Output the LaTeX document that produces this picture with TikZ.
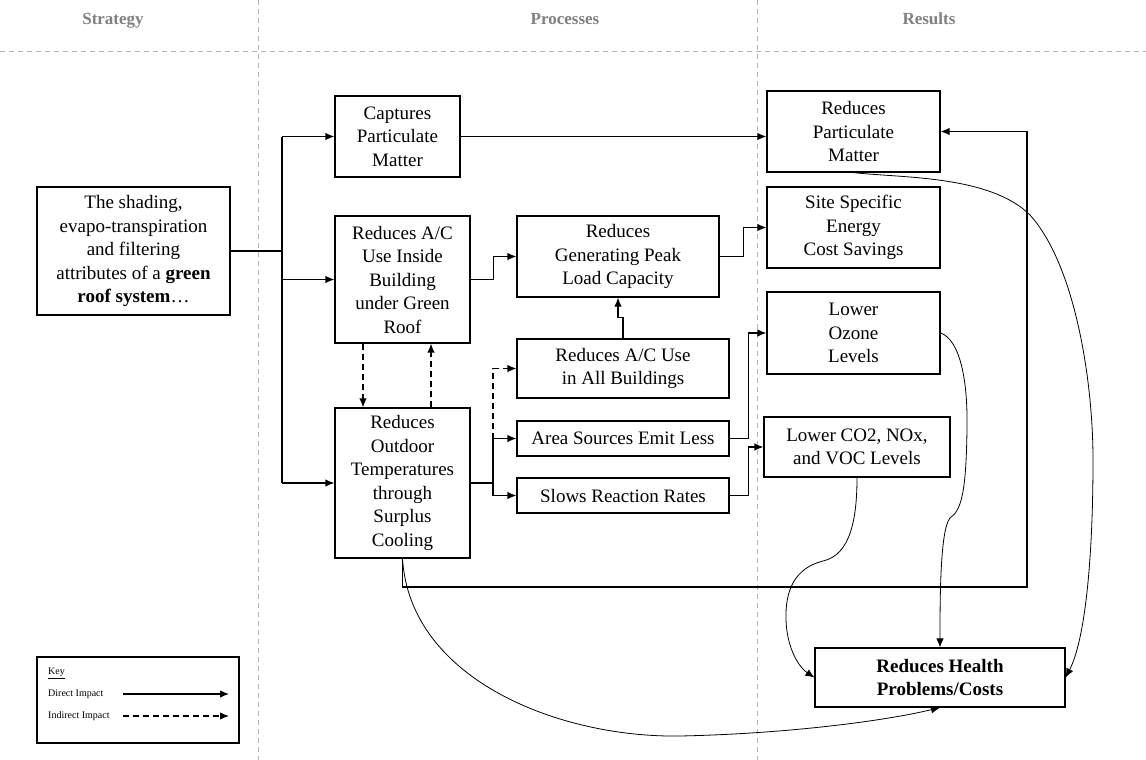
\documentclass[tikz,border=0pt]{standalone}
\usepackage{fontspec}
\setmainfont{Liberation Serif}
\usetikzlibrary{arrows.meta}
\newcommand{\boxfont}{\fontsize{19}{23.5}\selectfont}

\begin{document}
\begin{tikzpicture}[x=1pt,y=-1pt,
  box/.style={draw,line width=1.2pt,align=center,inner sep=0pt,font=\boxfont},
  dir/.style={line width=1.2pt,-{Latex[length=9pt,width=7.5pt]}},
  ind/.style={dir,dash pattern=on 6pt off 4pt},
  soft/.style={line width=0.8pt,-{Latex[length=9pt,width=7.5pt]}},
  grid/.style={gray!60,line width=0.8pt,dash pattern=on 5pt off 4pt},
  head/.style={anchor=base,text=gray,font=\fontsize{17}{20}\selectfont\bfseries},
  keytext/.style={anchor=west,inner sep=0pt,font=\fontsize{10}{12}\selectfont}]
\useasboundingbox (0,0) rectangle (1146,760);
\draw[grid] (0,51) -- (1146,51);
\draw[grid] (258,0) -- (258,760);
\draw[grid] (757,0) -- (757,760);
\node[head] (hstrat) at (113,25) {Strategy};
\node[head] (hproc) at (565,25) {Processes};
\node[head] (hres) at (929,25) {Results};

\node[box,minimum width=193,minimum height=128] (strat) at (133.5,251)
  {The shading,\\evapo-transpiration\\and filtering\\attributes of a \textbf{green}\\\textbf{roof system}\ldots};
\node[box,minimum width=125,minimum height=81] (capt) at (397.5,136.5) {Captures\\Particulate\\Matter};
\node[box,minimum width=135,minimum height=127] (acin) at (402.5,279.5) {Reduces A/C\\Use Inside\\Building\\under Green\\Roof};
\node[box,minimum width=135,minimum height=150] (outd) at (402.5,483) {Reduces\\Outdoor\\Temperatures\\through\\Surplus\\Cooling};
\node[box,minimum width=202,minimum height=81] (peak) at (618,256.5) {Reduces\\Generating Peak\\Load Capacity};
\node[box,minimum width=212,minimum height=59] (acall) at (623,368.5) {Reduces A/C Use\\in All Buildings};
\node[box,minimum width=212,minimum height=35] (area) at (623,438.5) {Area Sources Emit Less};
\node[box,minimum width=212,minimum height=35] (slows) at (623,495.5) {Slows Reaction Rates};
\node[box,minimum width=173,minimum height=81] (rpm) at (853.5,131.5) {Reduces\\Particulate\\Matter};
\node[box,minimum width=173,minimum height=81] (site) at (853.5,227.5) {Site Specific\\Energy\\Cost Savings};
\node[box,minimum width=173,minimum height=82] (ozone) at (853.5,333) {Lower\\Ozone\\Levels};
\node[box,minimum width=186,minimum height=60] (co2) at (857,447) {Lower CO2, NOx,\\and VOC Levels};
\node[box,minimum width=250,minimum height=59] (health) at (940,677.5) {\textbf{Reduces Health}\\\textbf{Problems/Costs}};

\coordinate (tr) at (282,251);
\draw[line width=1.2pt] (strat.east) -- (tr);
\draw[line width=1.2pt] (tr |- capt) -- (tr |- outd);
\draw[dir] (tr |- capt) -- (capt.west);
\draw[dir] (tr |- acin) -- (acin.west);
\draw[dir] (tr |- outd) -- (outd.west);
\draw[dir] (capt.east) -- (capt.east -| rpm.west);
\draw[dir] (acin.east) -- ++(23,0) |- (peak.west);
\draw[dir] (peak.east) -- ++(24,0) |- (site.west);
\draw[dir] (acall.north) -- ++(0,-21) -| (peak.south);
\draw[ind] ([xshift=-39.5pt]acin.south) -- ([xshift=-39.5pt]outd.north);
\draw[ind] ([xshift=28.5pt]outd.north) -- ([xshift=28.5pt]acin.south);

\coordinate (ob) at (493,483);
\draw[line width=1.2pt] (outd.east) -- (ob);
\draw[dir] (ob) |- (area.west);
\draw[dir] (ob) |- (slows.west);
\draw[ind] (ob |- area.west) |- (acall.west);
\draw[dir] (area.east) -- ++(19,0) |- (ozone.west);
\draw[dir] (slows.east) -- ++(19,0) |- (co2.west);

\coordinate (loop) at (1027,587);
\draw[dir] (outd.south) |- (loop) |- (rpm.east);

\draw[soft] (outd.south) .. controls (410,680) and (560,738) .. (680,736)
  .. controls (780,734) and (880,722) .. (health.south);
\draw[soft] (ozone.east) .. controls (960,340) and (968,380) .. (967,430)
  .. controls (966,490) and (962,510) .. (950,518)
  .. controls (940,530) and (940,600) .. (health.north);
\draw[soft] (co2.south) .. controls (857,520) and (850,555) .. (823,561)
  .. controls (795,568) and (785,590) .. (786,620)
  .. controls (787,650) and (800,668) .. (health.west);
\draw[soft] (rpm.south) .. controls (900,178) and (990,175) .. (1030,215)
  .. controls (1075,265) and (1093,380) .. (1093,460)
  .. controls (1093,560) and (1085,640) .. (health.east);

\node[draw,line width=1.2pt,minimum width=202,minimum height=86] (key) at (138,700) {};
\node[keytext] (kt) at (48,673) {\underline{Key}};
\node[keytext] (kd) at (48,694) {Direct Impact};
\node[keytext] (ki) at (48,716) {Indirect Impact};
\coordinate (kds) at (123,694);
\coordinate (kde) at (229,694);
\coordinate (kis) at (123,716);
\coordinate (kie) at (229,716);
\draw[dir] (kds) -- (kde);
\draw[ind] (kis) -- (kie);
\end{tikzpicture}
\end{document}
